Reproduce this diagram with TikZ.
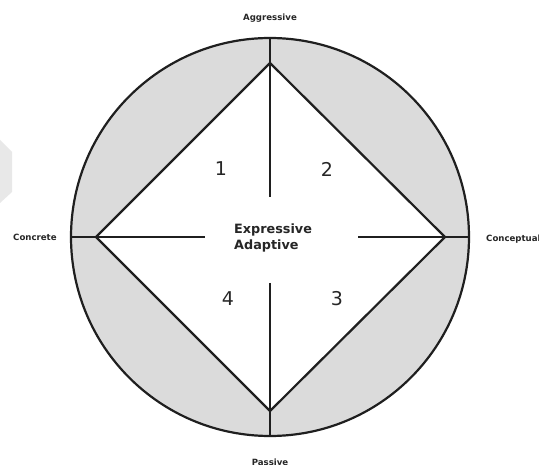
\documentclass[tikz,border=0pt]{standalone}
\usepackage{fontspec}
\setmainfont{DejaVu Sans}
\begin{document}
\begin{tikzpicture}[x=1pt,y=-1pt,
  edge/.style={line width=2.2pt,draw=black!88},
  axislabel/.style={font=\bfseries\fontsize{8.6}{10}\selectfont,text=black!85,inner sep=0pt},
  quadnum/.style={font=\fontsize{19}{22}\selectfont,text=black!85,inner sep=0pt},
  centertext/.style={font=\bfseries\fontsize{12.8}{15.5}\selectfont,text=black!85,align=left,inner sep=0pt}]
\useasboundingbox[fill=white] (0,0) rectangle (539,465);
\begin{scope}
\clip (0,0) rectangle (539,465);
% faint watermark
\fill[black!9] (0,140) -- (12,152) -- (12,192) -- (0,203) -- cycle;
% circle and diamond
\coordinate (O) at (270,237);
\fill[fill=black!14] (O) circle (199);
\coordinate (DT) at (270,63);
\coordinate (DR) at (445,237);
\coordinate (DB) at (270,411);
\coordinate (DL) at (96,237);
\fill[white] (DT) -- (DR) -- (DB) -- (DL) -- cycle;
\draw[edge] (DT) -- (DR) -- (DB) -- (DL) -- cycle;
\draw[edge] (O) circle (199);
% axis segments
\coordinate (CT) at (270,38);
\coordinate (CB) at (270,436);
\coordinate (CL) at (71,237);
\coordinate (CR) at (469,237);
\coordinate (IT) at (270,197);
\coordinate (IB) at (270,283);
\coordinate (IL) at (205,237);
\coordinate (IR) at (358,237);
\draw[edge] (CT) -- (IT);
\draw[edge] (IB) -- (CB);
\draw[edge] (CL) -- (IL);
\draw[edge] (IR) -- (CR);
% numbers
\node[quadnum] (n1) at (221,169) {1};
\node[quadnum] (n2) at (327,169) {2};
\node[quadnum] (n3) at (337,299) {3};
\node[quadnum] (n4) at (228,299) {4};
% center text
\node[centertext,anchor=west] (ctr) at (234,238) {Expressive\\Adaptive};
% axis labels
\node[axislabel] (agg) at (270,18) {Aggressive};
\node[axislabel] (pas) at (270,462) {Passive};
\node[axislabel,anchor=west] (conc) at (13,237) {Concrete};
\node[axislabel,anchor=west] (conp) at (486,239) {Conceptual};
\end{scope}
\end{tikzpicture}
\end{document}
